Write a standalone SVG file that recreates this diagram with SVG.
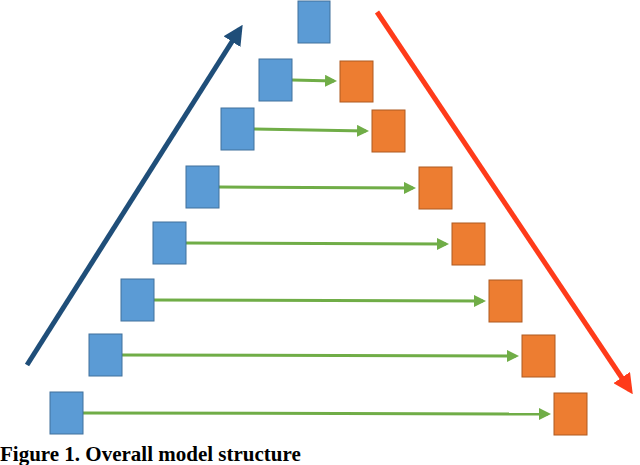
<svg xmlns="http://www.w3.org/2000/svg" width="640" height="465" viewBox="0 0 640 465">
<style>
.b{fill:#5b9bd5;stroke:#41719c;stroke-width:1}
.o{fill:#ed7d31;stroke:#ae5a21;stroke-width:1}
.g{stroke:#70ad47;stroke-width:3;fill:none}
</style>
<defs>
<marker id="ga" markerWidth="4" markerHeight="4" refX="3" refY="2" orient="auto"><path d="M0,0L4,2L0,4z" fill="#70ad47"/></marker>
<marker id="ba" markerWidth="4" markerHeight="4" refX="3" refY="2" orient="auto"><path d="M0,0L4,2L0,4z" fill="#1f4e79"/></marker>
<marker id="ra" markerWidth="4" markerHeight="4" refX="3" refY="2" orient="auto"><path d="M0,0L4,2L0,4z" fill="#ff3b1a"/></marker>
</defs>
<rect width="640" height="465" fill="#fff"/>
<g id="connectors">
<line x1="27" y1="365" x2="240" y2="29" stroke="#1f4e79" stroke-width="5" marker-end="url(#ba)"/>
<line x1="377" y1="12" x2="630" y2="390" stroke="#ff3b1a" stroke-width="5" marker-end="url(#ra)"/>
<line class="g" x1="292" y1="80" x2="334" y2="81" marker-end="url(#ga)"/>
<line class="g" x1="254" y1="129" x2="366" y2="131" marker-end="url(#ga)"/>
<line class="g" x1="219" y1="187" x2="413" y2="188" marker-end="url(#ga)"/>
<line class="g" x1="186" y1="243" x2="446" y2="244" marker-end="url(#ga)"/>
<line class="g" x1="154" y1="300" x2="483" y2="301" marker-end="url(#ga)"/>
<line class="g" x1="122" y1="355" x2="516" y2="356" marker-end="url(#ga)"/>
<line class="g" x1="83" y1="413" x2="548" y2="414" marker-end="url(#ga)"/>
</g>
<g id="b0"><rect class="b" x="298" y="1" width="32" height="42"/></g>
<g id="b1"><rect class="b" x="259" y="59" width="33" height="42"/></g>
<g id="o1"><rect class="o" x="340" y="61" width="33" height="41"/></g>
<g id="b2"><rect class="b" x="221" y="108" width="33" height="42"/></g>
<g id="o2"><rect class="o" x="372" y="110" width="33" height="42"/></g>
<g id="b3"><rect class="b" x="186" y="166" width="33" height="42"/></g>
<g id="o3"><rect class="o" x="419" y="167" width="33" height="42"/></g>
<g id="b4"><rect class="b" x="153" y="222" width="33" height="42"/></g>
<g id="o4"><rect class="o" x="452" y="223" width="33" height="42"/></g>
<g id="b5"><rect class="b" x="121" y="279" width="33" height="42"/></g>
<g id="o5"><rect class="o" x="489" y="280" width="33" height="42"/></g>
<g id="b6"><rect class="b" x="89" y="334" width="33" height="42"/></g>
<g id="o6"><rect class="o" x="522" y="335" width="33" height="42"/></g>
<g id="b7"><rect class="b" x="50" y="392" width="33" height="42"/></g>
<g id="o7"><rect class="o" x="554" y="393" width="33" height="42"/></g>
<text x="0" y="461" font-family="Liberation Serif, serif" font-weight="bold" font-size="21">Figure 1. Overall model structure</text>
</svg>
